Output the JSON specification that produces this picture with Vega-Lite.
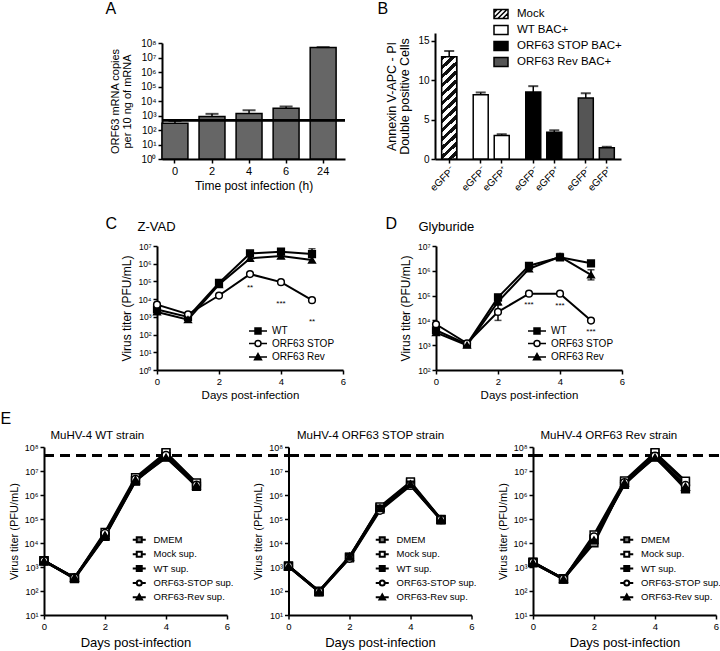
{
 "$schema": "https://vega.github.io/schema/vega-lite/v6.json",
 "padding": 0,
 "background": "white",
 "config": {
  "font": "Liberation Sans",
  "view": {"stroke": null},
  "axis": {"grid": false, "domainColor": "black", "domainWidth": 2, "tickColor": "black", "tickWidth": 1.5, "tickSize": 4, "labelColor": "black", "titleColor": "black", "titleFontWeight": "normal", "labelPadding": 2, "labelFontSize": 10, "titleFontSize": 12, "labelFlush": false, "labelOverlap": false},
  "legend": {"labelColor": "black", "padding": 0, "symbolStrokeColor": "black"}
 },
 "datasets": {
  "A": [
   {"time": "0", "copies": 290, "hi": 420},
   {"time": "2", "copies": 850, "hi": 1300},
   {"time": "4", "copies": 1400, "hi": 2300},
   {"time": "6", "copies": 3200, "hi": 4200},
   {"time": "24", "copies": 48000000, "hi": 52000000}
  ],
  "B": [
   {"cond": "Mock eGFP-", "group": "Mock", "pct": 13.0, "hi": 13.7},
   {"cond": "WT eGFP-", "group": "WT BAC+", "pct": 8.15, "hi": 8.45},
   {"cond": "WT eGFP+", "group": "WT BAC+", "pct": 3.0, "hi": 3.15},
   {"cond": "STOP eGFP-", "group": "ORF63 STOP BAC+", "pct": 8.5, "hi": 9.25},
   {"cond": "STOP eGFP+", "group": "ORF63 STOP BAC+", "pct": 3.4, "hi": 3.65},
   {"cond": "Rev eGFP-", "group": "ORF63 Rev BAC+", "pct": 7.75, "hi": 8.35},
   {"cond": "Rev eGFP+", "group": "ORF63 Rev BAC+", "pct": 1.42, "hi": 1.55}
  ],
  "C": [
   {"strain": "WT", "day": 0, "titer": 2600}, {"strain": "WT", "day": 1, "titer": 1000}, {"strain": "WT", "day": 2, "titer": 83000}, {"strain": "WT", "day": 3, "titer": 3800000}, {"strain": "WT", "day": 4, "titer": 4800000}, {"strain": "WT", "day": 5, "titer": 3500000, "lo": 2200000, "hi": 7000000},
   {"strain": "ORF63 STOP", "day": 0, "titer": 4900}, {"strain": "ORF63 STOP", "day": 1, "titer": 1400}, {"strain": "ORF63 STOP", "day": 2, "titer": 16000}, {"strain": "ORF63 STOP", "day": 3, "titer": 260000}, {"strain": "ORF63 STOP", "day": 4, "titer": 91000}, {"strain": "ORF63 STOP", "day": 5, "titer": 8700},
   {"strain": "ORF63 Rev", "day": 0, "titer": 1900}, {"strain": "ORF63 Rev", "day": 1, "titer": 700}, {"strain": "ORF63 Rev", "day": 2, "titer": 67000}, {"strain": "ORF63 Rev", "day": 3, "titer": 2000000}, {"strain": "ORF63 Rev", "day": 4, "titer": 2700000}, {"strain": "ORF63 Rev", "day": 5, "titer": 1600000}
  ],
  "Cstars": [
   {"day": 3, "y": 40000, "t": "**"}, {"day": 4, "y": 5600, "t": "***"}, {"day": 5, "y": 510, "t": "**"}
  ],
  "D": [
   {"strain": "WT", "day": 0, "titer": 4000}, {"strain": "WT", "day": 1, "titer": 1100}, {"strain": "WT", "day": 2, "titer": 85000, "lo": 60000, "hi": 110000}, {"strain": "WT", "day": 3, "titer": 1600000}, {"strain": "WT", "day": 4, "titer": 3500000, "lo": 2700000, "hi": 5000000}, {"strain": "WT", "day": 5, "titer": 2000000},
   {"strain": "ORF63 STOP", "day": 0, "titer": 7000}, {"strain": "ORF63 STOP", "day": 1, "titer": 1200}, {"strain": "ORF63 STOP", "day": 2, "titer": 22000, "lo": 10000, "hi": 42000}, {"strain": "ORF63 STOP", "day": 3, "titer": 120000}, {"strain": "ORF63 STOP", "day": 4, "titer": 120000}, {"strain": "ORF63 STOP", "day": 5, "titer": 9800},
   {"strain": "ORF63 Rev", "day": 0, "titer": 3200}, {"strain": "ORF63 Rev", "day": 1, "titer": 1000}, {"strain": "ORF63 Rev", "day": 2, "titer": 56000}, {"strain": "ORF63 Rev", "day": 3, "titer": 1200000}, {"strain": "ORF63 Rev", "day": 4, "titer": 3700000}, {"strain": "ORF63 Rev", "day": 5, "titer": 680000, "lo": 430000, "hi": 1100000}
  ],
  "Dstars": [
   {"day": 3, "y": 42000, "t": "***"}, {"day": 4, "y": 38000, "t": "***"}, {"day": 5, "y": 3300, "t": "***"}
  ],
  "E": [
   {"panel": "WT", "sup": "DMEM", "day": 0, "titer": 1800}, {"panel": "WT", "sup": "DMEM", "day": 1, "titer": 350}, {"panel": "WT", "sup": "DMEM", "day": 2, "titer": 20000}, {"panel": "WT", "sup": "DMEM", "day": 3, "titer": 4000000}, {"panel": "WT", "sup": "DMEM", "day": 4, "titer": 55000000}, {"panel": "WT", "sup": "DMEM", "day": 5, "titer": 3000000},
   {"panel": "WT", "sup": "Mock sup.", "day": 0, "titer": 1800}, {"panel": "WT", "sup": "Mock sup.", "day": 1, "titer": 340}, {"panel": "WT", "sup": "Mock sup.", "day": 2, "titer": 28000}, {"panel": "WT", "sup": "Mock sup.", "day": 3, "titer": 5300000}, {"panel": "WT", "sup": "Mock sup.", "day": 4, "titer": 58000000}, {"panel": "WT", "sup": "Mock sup.", "day": 5, "titer": 3200000},
   {"panel": "WT", "sup": "WT sup.", "day": 0, "titer": 1850}, {"panel": "WT", "sup": "WT sup.", "day": 1, "titer": 330}, {"panel": "WT", "sup": "WT sup.", "day": 2, "titer": 19000}, {"panel": "WT", "sup": "WT sup.", "day": 3, "titer": 3800000}, {"panel": "WT", "sup": "WT sup.", "day": 4, "titer": 40000000}, {"panel": "WT", "sup": "WT sup.", "day": 5, "titer": 2300000},
   {"panel": "WT", "sup": "ORF63-STOP sup.", "day": 0, "titer": 1800}, {"panel": "WT", "sup": "ORF63-STOP sup.", "day": 1, "titer": 350}, {"panel": "WT", "sup": "ORF63-STOP sup.", "day": 2, "titer": 25000}, {"panel": "WT", "sup": "ORF63-STOP sup.", "day": 3, "titer": 4500000}, {"panel": "WT", "sup": "ORF63-STOP sup.", "day": 4, "titer": 45000000}, {"panel": "WT", "sup": "ORF63-STOP sup.", "day": 5, "titer": 2600000},
   {"panel": "WT", "sup": "ORF63-Rev sup.", "day": 0, "titer": 1750}, {"panel": "WT", "sup": "ORF63-Rev sup.", "day": 1, "titer": 360}, {"panel": "WT", "sup": "ORF63-Rev sup.", "day": 2, "titer": 21000}, {"panel": "WT", "sup": "ORF63-Rev sup.", "day": 3, "titer": 4200000}, {"panel": "WT", "sup": "ORF63-Rev sup.", "day": 4, "titer": 36000000}, {"panel": "WT", "sup": "ORF63-Rev sup.", "day": 5, "titer": 2500000},
   {"panel": "STOP", "sup": "DMEM", "day": 0, "titer": 1100}, {"panel": "STOP", "sup": "DMEM", "day": 1, "titer": 95}, {"panel": "STOP", "sup": "DMEM", "day": 2, "titer": 2500}, {"panel": "STOP", "sup": "DMEM", "day": 3, "titer": 300000}, {"panel": "STOP", "sup": "DMEM", "day": 4, "titer": 3200000}, {"panel": "STOP", "sup": "DMEM", "day": 5, "titer": 95000},
   {"panel": "STOP", "sup": "Mock sup.", "day": 0, "titer": 1100}, {"panel": "STOP", "sup": "Mock sup.", "day": 1, "titer": 98}, {"panel": "STOP", "sup": "Mock sup.", "day": 2, "titer": 2600}, {"panel": "STOP", "sup": "Mock sup.", "day": 3, "titer": 320000}, {"panel": "STOP", "sup": "Mock sup.", "day": 4, "titer": 3500000}, {"panel": "STOP", "sup": "Mock sup.", "day": 5, "titer": 97000},
   {"panel": "STOP", "sup": "WT sup.", "day": 0, "titer": 1050}, {"panel": "STOP", "sup": "WT sup.", "day": 1, "titer": 92}, {"panel": "STOP", "sup": "WT sup.", "day": 2, "titer": 2400}, {"panel": "STOP", "sup": "WT sup.", "day": 3, "titer": 260000}, {"panel": "STOP", "sup": "WT sup.", "day": 4, "titer": 2600000}, {"panel": "STOP", "sup": "WT sup.", "day": 5, "titer": 92000},
   {"panel": "STOP", "sup": "ORF63-STOP sup.", "day": 0, "titer": 1100}, {"panel": "STOP", "sup": "ORF63-STOP sup.", "day": 1, "titer": 95}, {"panel": "STOP", "sup": "ORF63-STOP sup.", "day": 2, "titer": 2300}, {"panel": "STOP", "sup": "ORF63-STOP sup.", "day": 3, "titer": 230000}, {"panel": "STOP", "sup": "ORF63-STOP sup.", "day": 4, "titer": 2500000}, {"panel": "STOP", "sup": "ORF63-STOP sup.", "day": 5, "titer": 94000},
   {"panel": "STOP", "sup": "ORF63-Rev sup.", "day": 0, "titer": 1080}, {"panel": "STOP", "sup": "ORF63-Rev sup.", "day": 1, "titer": 97}, {"panel": "STOP", "sup": "ORF63-Rev sup.", "day": 2, "titer": 2700}, {"panel": "STOP", "sup": "ORF63-Rev sup.", "day": 3, "titer": 280000}, {"panel": "STOP", "sup": "ORF63-Rev sup.", "day": 4, "titer": 2800000}, {"panel": "STOP", "sup": "ORF63-Rev sup.", "day": 5, "titer": 96000},
   {"panel": "Rev", "sup": "DMEM", "day": 0, "titer": 1550}, {"panel": "Rev", "sup": "DMEM", "day": 1, "titer": 320}, {"panel": "Rev", "sup": "DMEM", "day": 2, "titer": 10000}, {"panel": "Rev", "sup": "DMEM", "day": 3, "titer": 3500000}, {"panel": "Rev", "sup": "DMEM", "day": 4, "titer": 55000000}, {"panel": "Rev", "sup": "DMEM", "day": 5, "titer": 3500000},
   {"panel": "Rev", "sup": "Mock sup.", "day": 0, "titer": 1600}, {"panel": "Rev", "sup": "Mock sup.", "day": 1, "titer": 310}, {"panel": "Rev", "sup": "Mock sup.", "day": 2, "titer": 22000}, {"panel": "Rev", "sup": "Mock sup.", "day": 3, "titer": 3900000}, {"panel": "Rev", "sup": "Mock sup.", "day": 4, "titer": 58000000}, {"panel": "Rev", "sup": "Mock sup.", "day": 5, "titer": 3800000},
   {"panel": "Rev", "sup": "WT sup.", "day": 0, "titer": 1500}, {"panel": "Rev", "sup": "WT sup.", "day": 1, "titer": 330}, {"panel": "Rev", "sup": "WT sup.", "day": 2, "titer": 15000}, {"panel": "Rev", "sup": "WT sup.", "day": 3, "titer": 2800000}, {"panel": "Rev", "sup": "WT sup.", "day": 4, "titer": 40000000}, {"panel": "Rev", "sup": "WT sup.", "day": 5, "titer": 1800000},
   {"panel": "Rev", "sup": "ORF63-STOP sup.", "day": 0, "titer": 1550}, {"panel": "Rev", "sup": "ORF63-STOP sup.", "day": 1, "titer": 320}, {"panel": "Rev", "sup": "ORF63-STOP sup.", "day": 2, "titer": 18000}, {"panel": "Rev", "sup": "ORF63-STOP sup.", "day": 3, "titer": 3300000}, {"panel": "Rev", "sup": "ORF63-STOP sup.", "day": 4, "titer": 42000000}, {"panel": "Rev", "sup": "ORF63-STOP sup.", "day": 5, "titer": 2500000},
   {"panel": "Rev", "sup": "ORF63-Rev sup.", "day": 0, "titer": 1500}, {"panel": "Rev", "sup": "ORF63-Rev sup.", "day": 1, "titer": 315}, {"panel": "Rev", "sup": "ORF63-Rev sup.", "day": 2, "titer": 13000}, {"panel": "Rev", "sup": "ORF63-Rev sup.", "day": 3, "titer": 3200000}, {"panel": "Rev", "sup": "ORF63-Rev sup.", "day": 4, "titer": 36000000}, {"panel": "Rev", "sup": "ORF63-Rev sup.", "day": 5, "titer": 2200000}
  ]
 },
 "spacing": 9,
 "vconcat": [
  {
   "spacing": 22,
   "vconcat": [
    {
     "hconcat": [
      {"width": 28, "height": 126, "data": {"values": []}, "mark": "point"},
      {
       "width": 183, "height": 126,
       "data": {"name": "A"},
       "resolve": {"axis": {"x": "independent"}},
       "layer": [
        {"mark": {"type": "bar", "fill": "#666666", "stroke": "black", "strokeWidth": 1.5},
         "encoding": {
          "x": {"field": "time", "type": "nominal", "scale": {"domain": ["0", "2", "4", "6", "24"], "paddingInner": 0.3, "paddingOuter": 0.12, "align": 0}, "axis": {"title": "Time post infection (h)", "labelAngle": 0, "labelFontSize": 11, "titleFontSize": 12, "titlePadding": 4}},
          "y": {"field": "copies", "type": "quantitative", "scale": {"type": "log", "domain": [1, 100000000], "range": [126, 10]}, "axis": {"values": [1, 10, 100, 1000, 10000, 100000, 1000000, 10000000, 100000000], "labelExpr": "'10' + ['⁰','¹','²','³','⁴','⁵','⁶','⁷','⁸'][round(log(datum.value)/LN10)]", "title": ["ORF63 mRNA copies", "per 10 ng of mRNA"], "titleFontSize": 11, "titleLineHeight": 12, "titlePadding": 8, "labelFontSize": 10}},
          "y2": {"datum": 1}
         }},
        {"mark": {"type": "rule", "strokeWidth": 1.5, "color": "black"},
         "encoding": {
          "x": {"field": "time", "type": "nominal", "axis": {"orient": "top", "domain": false, "ticks": false, "labels": false, "title": "A", "titleX": -57, "titleY": -20, "titleAlign": "left", "titleBaseline": "alphabetic", "titleAngle": 0, "titleFontSize": 16}},
          "y": {"field": "copies", "type": "quantitative"},
          "y2": {"field": "hi"}
         }},
        {"mark": {"type": "tick", "orient": "horizontal", "size": 13, "thickness": 2, "color": "black"},
         "encoding": {
          "x": {"field": "time", "type": "nominal", "axis": null},
          "y": {"field": "hi", "type": "quantitative"}
         }},
        {"mark": {"type": "rule", "strokeWidth": 2, "color": "black"},
         "encoding": {"y": {"datum": 470}}}
       ]
      },
      {
       "width": 186, "height": 126,
       "data": {"name": "B"},
       "resolve": {"axis": {"x": "independent"}, "scale": {"fill": "independent", "shape": "independent", "stroke": "independent"}},
       "layer": [
        {"mark": {"type": "bar", "width": 15, "stroke": "black", "strokeWidth": 1.5},
         "encoding": {
          "x": {"field": "cond", "type": "nominal", "scale": {"domain": ["Mock eGFP-", "s1", "s2", "WT eGFP-", "s3", "WT eGFP+", "s4", "s5", "STOP eGFP-", "s6", "STOP eGFP+", "s7", "s8", "Rev eGFP-", "s9", "Rev eGFP+"], "paddingInner": 0, "paddingOuter": 0.85}, "axis": {"values": ["Mock eGFP-", "WT eGFP-", "WT eGFP+", "STOP eGFP-", "STOP eGFP+", "Rev eGFP-", "Rev eGFP+"], "labelExpr": "indexof(datum.value, '+') >= 0 ? 'eGFP⁺' : 'eGFP⁻'", "labelAngle": -45, "labelFontSize": 10, "title": null}},
          "y": {"field": "pct", "type": "quantitative", "scale": {"domain": [0, 15]}, "axis": {"values": [0, 5, 10, 15], "title": ["Annexin V-APC - PI", "Double positive Cells"], "titleFontSize": 12.5, "titleLineHeight": 13, "titlePadding": 6, "labelFontSize": 10}},
          "fill": {"field": "group", "type": "nominal", "scale": {"domain": ["Mock", "WT BAC+", "ORF63 STOP BAC+", "ORF63 Rev BAC+"], "range": ["#888888", "white", "black", "#555555"]}, "legend": null}
         }},
        {"transform": [{"filter": "datum.group === 'Mock'"}],
         "mark": {"type": "bar", "width": 15, "stroke": "black", "strokeWidth": 1.5,
          "fill": {"gradient": "linear", "x1": 0, "y1": 0, "x2": 0.1533, "y2": 1.1163, "stops": [
              {"offset": 0, "color": "#111111"}, {"offset": 0.0385, "color": "#111111"}, {"offset": 0.0385, "color": "white"}, {"offset": 0.0769, "color": "white"},
              {"offset": 0.0769, "color": "#111111"}, {"offset": 0.1154, "color": "#111111"}, {"offset": 0.1154, "color": "white"}, {"offset": 0.1538, "color": "white"},
              {"offset": 0.1538, "color": "#111111"}, {"offset": 0.1923, "color": "#111111"}, {"offset": 0.1923, "color": "white"}, {"offset": 0.2308, "color": "white"},
              {"offset": 0.2308, "color": "#111111"}, {"offset": 0.2692, "color": "#111111"}, {"offset": 0.2692, "color": "white"}, {"offset": 0.3077, "color": "white"},
              {"offset": 0.3077, "color": "#111111"}, {"offset": 0.3462, "color": "#111111"}, {"offset": 0.3462, "color": "white"}, {"offset": 0.3846, "color": "white"},
              {"offset": 0.3846, "color": "#111111"}, {"offset": 0.4231, "color": "#111111"}, {"offset": 0.4231, "color": "white"}, {"offset": 0.4615, "color": "white"},
              {"offset": 0.4615, "color": "#111111"}, {"offset": 0.5, "color": "#111111"}, {"offset": 0.5, "color": "white"}, {"offset": 0.5385, "color": "white"},
              {"offset": 0.5385, "color": "#111111"}, {"offset": 0.5769, "color": "#111111"}, {"offset": 0.5769, "color": "white"}, {"offset": 0.6154, "color": "white"},
              {"offset": 0.6154, "color": "#111111"}, {"offset": 0.6538, "color": "#111111"}, {"offset": 0.6538, "color": "white"}, {"offset": 0.6923, "color": "white"},
              {"offset": 0.6923, "color": "#111111"}, {"offset": 0.7308, "color": "#111111"}, {"offset": 0.7308, "color": "white"}, {"offset": 0.7692, "color": "white"},
              {"offset": 0.7692, "color": "#111111"}, {"offset": 0.8077, "color": "#111111"}, {"offset": 0.8077, "color": "white"}, {"offset": 0.8462, "color": "white"},
              {"offset": 0.8462, "color": "#111111"}, {"offset": 0.8846, "color": "#111111"}, {"offset": 0.8846, "color": "white"}, {"offset": 0.9231, "color": "white"},
              {"offset": 0.9231, "color": "#111111"}, {"offset": 0.9615, "color": "#111111"}, {"offset": 0.9615, "color": "white"}, {"offset": 1, "color": "white"}
          ]}},
         "encoding": {
          "x": {"field": "cond", "type": "nominal", "scale": {"domain": ["Mock eGFP-", "s1", "s2", "WT eGFP-", "s3", "WT eGFP+", "s4", "s5", "STOP eGFP-", "s6", "STOP eGFP+", "s7", "s8", "Rev eGFP-", "s9", "Rev eGFP+"], "paddingInner": 0, "paddingOuter": 0.85}, "axis": null},
          "y": {"field": "pct", "type": "quantitative"}
         }},
        {"mark": {"type": "rule", "strokeWidth": 1.5, "color": "black"},
         "encoding": {
          "x": {"field": "cond", "type": "nominal", "scale": {"domain": ["Mock eGFP-", "s1", "s2", "WT eGFP-", "s3", "WT eGFP+", "s4", "s5", "STOP eGFP-", "s6", "STOP eGFP+", "s7", "s8", "Rev eGFP-", "s9", "Rev eGFP+"], "paddingInner": 0, "paddingOuter": 0.85}, "axis": {"orient": "top", "domain": false, "ticks": false, "labels": false, "title": "B", "titleX": -58, "titleY": -20, "titleAlign": "left", "titleBaseline": "alphabetic", "titleAngle": 0, "titleFontSize": 16}},
          "y": {"field": "pct", "type": "quantitative"},
          "y2": {"field": "hi"}
         }},
        {"mark": {"type": "tick", "orient": "horizontal", "size": 10, "thickness": 2, "color": "black"},
         "encoding": {
          "x": {"field": "cond", "type": "nominal", "scale": {"domain": ["Mock eGFP-", "s1", "s2", "WT eGFP-", "s3", "WT eGFP+", "s4", "s5", "STOP eGFP-", "s6", "STOP eGFP+", "s7", "s8", "Rev eGFP-", "s9", "Rev eGFP+"], "paddingInner": 0, "paddingOuter": 0.85}, "axis": null},
          "y": {"field": "hi", "type": "quantitative"}
         }},
        {"transform": [{"filter": "false"}],
         "mark": {"type": "point", "filled": false, "opacity": 1, "strokeWidth": 1.5},
         "encoding": {
          "shape": {"field": "group", "type": "nominal", "scale": {"domain": ["Mock", "WT BAC+", "ORF63 STOP BAC+", "ORF63 Rev BAC+"], "range": ["M-1,-0.65H1V0.65H-1ZM-1,-0.2L-0.55,-0.65M-1,0.5L0.15,-0.65M-0.45,0.65L0.85,-0.65M0.25,0.65L1,-0.1", "M-1,-0.65H1V0.65H-1Z", "M-1,-0.65H1V0.65H-1Z", "M-1,-0.65H1V0.65H-1Z"]},
           "legend": {"orient": "none", "legendX": 58, "legendY": -27, "title": null, "symbolSize": 196, "symbolStrokeColor": "black", "symbolStrokeWidth": 1.5, "labelFontSize": 11.5, "labelOffset": 8, "rowPadding": -3}},
          "fill": {"field": "group", "type": "nominal", "scale": {"domain": ["Mock", "WT BAC+", "ORF63 STOP BAC+", "ORF63 Rev BAC+"], "range": ["white", "white", "black", "#555555"]}},
          "stroke": {"field": "group", "type": "nominal", "scale": {"domain": ["Mock", "WT BAC+", "ORF63 STOP BAC+", "ORF63 Rev BAC+"], "range": ["black", "black", "black", "black"]}}
         }}
       ]
      }
     ],
     "spacing": 90,
     "bounds": "flush"
    },
    {
     "hconcat": [
      {"width": 20, "height": 124, "data": {"values": []}, "mark": "point"},
      {
       "width": 186, "height": 124,
       "resolve": {"axis": {"x": "independent"}, "scale": {"fill": "independent", "shape": "independent", "stroke": "independent"}},
       "layer": [
        {"data": {"name": "C"},
         "mark": {"type": "line", "strokeWidth": 2, "color": "black"},
         "encoding": {
          "x": {"field": "day", "type": "quantitative", "scale": {"domain": [0, 6]}, "axis": {"values": [0, 2, 4, 6], "title": "Days post-infection", "titleFontSize": 11.5, "labelFontSize": 9.5, "titlePadding": 4}},
          "y": {"field": "titer", "type": "quantitative", "scale": {"type": "log", "domain": [1, 10000000]}, "axis": {"values": [1, 10, 100, 1000, 10000, 100000, 1000000, 10000000], "labelExpr": "'10' + ['⁰','¹','²','³','⁴','⁵','⁶','⁷','⁸'][round(log(datum.value)/LN10)]", "title": "Virus titer (PFU/mL)", "titleFontSize": 12, "labelFontSize": 8.5, "titlePadding": 4}},
          "detail": {"field": "strain", "type": "nominal"}
         }},
        {"data": {"name": "C"},
         "transform": [{"filter": "isValid(datum.hi)"}],
         "mark": {"type": "rule", "strokeWidth": 1.5, "color": "black"},
         "encoding": {
          "x": {"field": "day", "type": "quantitative", "axis": {"orient": "top", "domain": false, "ticks": false, "labels": false, "title": "Z-VAD", "titleX": -20, "titleY": -16, "titleAlign": "left", "titleBaseline": "alphabetic", "titleAngle": 0, "titleFontSize": 13}},
          "y": {"field": "lo", "type": "quantitative"},
          "y2": {"field": "hi"}
         }},
        {"data": {"name": "C"},
         "transform": [{"filter": "isValid(datum.hi)"}],
         "mark": {"type": "tick", "orient": "horizontal", "size": 7, "thickness": 1.5, "color": "black"},
         "encoding": {
          "x": {"field": "day", "type": "quantitative", "axis": null},
          "y": {"field": "hi", "type": "quantitative"}
         }},
        {"data": {"name": "C"},
         "mark": {"type": "point", "filled": true, "stroke": "black", "strokeWidth": 1.5, "size": 45, "opacity": 1},
         "encoding": {
          "x": {"field": "day", "type": "quantitative", "axis": null},
          "y": {"field": "titer", "type": "quantitative"},
          "shape": {"field": "strain", "type": "nominal", "scale": {"domain": ["WT", "ORF63 STOP", "ORF63 Rev"], "range": ["square", "circle", "triangle-up"]}, "legend": null},
          "fill": {"field": "strain", "type": "nominal", "scale": {"domain": ["WT", "ORF63 STOP", "ORF63 Rev"], "range": ["black", "white", "black"]}, "legend": null}
         }},
        {"data": {"name": "C"},
         "transform": [{"filter": "false"}],
         "mark": {"type": "point", "filled": false, "opacity": 1, "strokeWidth": 1.5},
         "encoding": {
          "shape": {"field": "strain", "type": "nominal", "scale": {"domain": ["WT", "ORF63 STOP", "ORF63 Rev"], "range": ["M-3,0H-1M1,0H3M-1,-1H1V1H-1Z", "M-3,0H-1M1,0H3M1,0A1,1,0,1,1,-1,0A1,1,0,1,1,1,0Z", "M-3,0H3M0,-1.15L1.15,0.9H-1.15Z"]},
           "legend": {"orient": "none", "legendX": 96, "legendY": 80, "title": null, "symbolSize": 36, "symbolStrokeColor": "black", "symbolStrokeWidth": 1.5, "labelFontSize": 10, "labelOffset": 9, "rowPadding": 0.5}},
          "fill": {"field": "strain", "type": "nominal", "scale": {"domain": ["WT", "ORF63 STOP", "ORF63 Rev"], "range": ["black", "white", "black"]}},
          "stroke": {"field": "strain", "type": "nominal", "scale": {"domain": ["WT", "ORF63 STOP", "ORF63 Rev"], "range": ["black", "black", "black"]}}
         }},
        {"data": {"name": "Cstars"},
         "mark": {"type": "text", "fontSize": 8, "color": "black", "baseline": "middle"},
         "encoding": {
          "x": {"field": "day", "type": "quantitative", "axis": {"orient": "top", "domain": false, "ticks": false, "labels": false, "title": "C", "titleX": -52, "titleY": -18, "titleAlign": "left", "titleBaseline": "alphabetic", "titleAngle": 0, "titleFontSize": 16}},
          "y": {"field": "y", "type": "quantitative"},
          "text": {"field": "t"}
         }}
       ]
      },
      {
       "width": 186, "height": 124,
       "resolve": {"axis": {"x": "independent"}, "scale": {"fill": "independent", "shape": "independent", "stroke": "independent"}},
       "layer": [
        {"data": {"name": "D"},
         "mark": {"type": "line", "strokeWidth": 2, "color": "black"},
         "encoding": {
          "x": {"field": "day", "type": "quantitative", "scale": {"domain": [0, 6]}, "axis": {"values": [0, 2, 4, 6], "title": "Days post-infection", "titleFontSize": 11.5, "labelFontSize": 9.5, "titlePadding": 4}},
          "y": {"field": "titer", "type": "quantitative", "scale": {"type": "log", "domain": [100, 10000000]}, "axis": {"values": [100, 1000, 10000, 100000, 1000000, 10000000], "labelExpr": "'10' + ['⁰','¹','²','³','⁴','⁵','⁶','⁷','⁸'][round(log(datum.value)/LN10)]", "title": "Virus titer (PFU/mL)", "titleFontSize": 12, "labelFontSize": 8.5, "titlePadding": 4}},
          "detail": {"field": "strain", "type": "nominal"}
         }},
        {"data": {"name": "D"},
         "transform": [{"filter": "isValid(datum.hi)"}],
         "mark": {"type": "rule", "strokeWidth": 1.5, "color": "black"},
         "encoding": {
          "x": {"field": "day", "type": "quantitative", "axis": {"orient": "top", "domain": false, "ticks": false, "labels": false, "title": "Glyburide", "titleX": -18, "titleY": -16, "titleAlign": "left", "titleBaseline": "alphabetic", "titleAngle": 0, "titleFontSize": 13}},
          "y": {"field": "lo", "type": "quantitative"},
          "y2": {"field": "hi"}
         }},
        {"data": {"name": "D"},
         "transform": [{"filter": "isValid(datum.hi)"}],
         "mark": {"type": "tick", "orient": "horizontal", "size": 7, "thickness": 1.5, "color": "black"},
         "encoding": {
          "x": {"field": "day", "type": "quantitative", "axis": null},
          "y": {"field": "hi", "type": "quantitative"}
         }},
        {"data": {"name": "D"},
         "transform": [{"filter": "isValid(datum.lo)"}],
         "mark": {"type": "tick", "orient": "horizontal", "size": 7, "thickness": 1.5, "color": "black"},
         "encoding": {
          "x": {"field": "day", "type": "quantitative", "axis": null},
          "y": {"field": "lo", "type": "quantitative"}
         }},
        {"data": {"name": "D"},
         "mark": {"type": "point", "filled": true, "stroke": "black", "strokeWidth": 1.5, "size": 45, "opacity": 1},
         "encoding": {
          "x": {"field": "day", "type": "quantitative", "axis": null},
          "y": {"field": "titer", "type": "quantitative"},
          "shape": {"field": "strain", "type": "nominal", "scale": {"domain": ["WT", "ORF63 STOP", "ORF63 Rev"], "range": ["square", "circle", "triangle-up"]}, "legend": null},
          "fill": {"field": "strain", "type": "nominal", "scale": {"domain": ["WT", "ORF63 STOP", "ORF63 Rev"], "range": ["black", "white", "black"]}, "legend": null}
         }},
        {"data": {"name": "D"},
         "transform": [{"filter": "false"}],
         "mark": {"type": "point", "filled": false, "opacity": 1, "strokeWidth": 1.5},
         "encoding": {
          "shape": {"field": "strain", "type": "nominal", "scale": {"domain": ["WT", "ORF63 STOP", "ORF63 Rev"], "range": ["M-3,0H-1M1,0H3M-1,-1H1V1H-1Z", "M-3,0H-1M1,0H3M1,0A1,1,0,1,1,-1,0A1,1,0,1,1,1,0Z", "M-3,0H3M0,-1.15L1.15,0.9H-1.15Z"]},
           "legend": {"orient": "none", "legendX": 96, "legendY": 80, "title": null, "symbolSize": 36, "symbolStrokeColor": "black", "symbolStrokeWidth": 1.5, "labelFontSize": 10, "labelOffset": 9, "rowPadding": 0.5}},
          "fill": {"field": "strain", "type": "nominal", "scale": {"domain": ["WT", "ORF63 STOP", "ORF63 Rev"], "range": ["black", "white", "black"]}},
          "stroke": {"field": "strain", "type": "nominal", "scale": {"domain": ["WT", "ORF63 STOP", "ORF63 Rev"], "range": ["black", "black", "black"]}}
         }},
        {"data": {"name": "Dstars"},
         "mark": {"type": "text", "fontSize": 8, "color": "black", "baseline": "middle"},
         "encoding": {
          "x": {"field": "day", "type": "quantitative", "axis": {"orient": "top", "domain": false, "ticks": false, "labels": false, "title": "D", "titleX": -51, "titleY": -18, "titleAlign": "left", "titleBaseline": "alphabetic", "titleAngle": 0, "titleFontSize": 16}},
          "y": {"field": "y", "type": "quantitative"},
          "text": {"field": "t"}
         }}
       ]
      }
     ],
     "spacing": 93,
     "bounds": "flush"
    }
   ]
  },
  {
   "hconcat": [
    {
     "width": 183, "height": 168,
     "data": {"name": "E"},
     "transform": [{"filter": "datum.panel === 'WT'"}],
     "resolve": {"axis": {"x": "independent"}, "scale": {"fill": "independent", "shape": "independent", "stroke": "independent"}},
     "layer": [
      {"mark": {"type": "rule", "strokeDash": [10, 6], "strokeWidth": 2.5, "color": "black"},
       "encoding": {"x": {"datum": 0, "axis": null}, "x2": {"datum": 8.03}, "y": {"datum": 45000000}}},
      {"mark": {"type": "line", "strokeWidth": 2.5, "color": "black"},
       "encoding": {
        "x": {"field": "day", "type": "quantitative", "scale": {"domain": [0, 6]}, "axis": {"values": [0, 2, 4, 6], "title": "Days post-infection", "titleFontSize": 13, "labelFontSize": 9.5, "titlePadding": 6}},
        "y": {"field": "titer", "type": "quantitative", "scale": {"type": "log", "domain": [10, 100000000]}, "axis": {"values": [10, 100, 1000, 10000, 100000, 1000000, 10000000, 100000000], "labelExpr": "'10' + ['⁰','¹','²','³','⁴','⁵','⁶','⁷','⁸'][round(log(datum.value)/LN10)]", "title": "Virus titer (PFU/mL)", "titleFontSize": 11, "labelFontSize": 9, "titlePadding": 5}},
        "detail": {"field": "sup", "type": "nominal"}
       }},
      {"mark": {"type": "point", "filled": true, "stroke": "black", "strokeWidth": 1.5, "size": 60, "opacity": 1},
       "encoding": {
        "x": {"field": "day", "type": "quantitative", "axis": {"orient": "top", "domain": false, "ticks": false, "labels": false, "title": "MuHV-4 WT strain", "titleX": 6, "titleY": -9, "titleAlign": "left", "titleBaseline": "alphabetic", "titleAngle": 0, "titleFontSize": 11.5}},
        "y": {"field": "titer", "type": "quantitative"},
        "shape": {"field": "sup", "type": "nominal", "scale": {"domain": ["DMEM", "Mock sup.", "WT sup.", "ORF63-STOP sup.", "ORF63-Rev sup."], "range": ["square", "square", "square", "circle", "triangle-up"]}, "legend": null},
        "fill": {"field": "sup", "type": "nominal", "scale": {"domain": ["DMEM", "Mock sup.", "WT sup.", "ORF63-STOP sup.", "ORF63-Rev sup."], "range": ["#7a7a7a", "white", "black", "white", "black"]}, "legend": null}
       }},
      {"transform": [{"filter": "false"}],
       "mark": {"type": "point", "filled": false, "opacity": 1, "strokeWidth": 2},
       "encoding": {
        "x": {"field": "day", "type": "quantitative", "axis": {"orient": "top", "domain": false, "ticks": false, "labels": false, "title": "E", "titleX": -44, "titleY": -24, "titleAlign": "left", "titleBaseline": "alphabetic", "titleAngle": 0, "titleFontSize": 16}},
        "y": {"field": "titer", "type": "quantitative"},
        "shape": {"field": "sup", "type": "nominal", "scale": {"domain": ["DMEM", "Mock sup.", "WT sup.", "ORF63-STOP sup.", "ORF63-Rev sup."], "range": ["M-2.6,0H-1M1,0H2.6M-1,-1H1V1H-1Z", "M-2.6,0H-1M1,0H2.6M-1,-1H1V1H-1Z", "M-2.6,0H-1M1,0H2.6M-1,-1H1V1H-1Z", "M-2.6,0H-1M1,0H2.6M1,0A1,1,0,1,1,-1,0A1,1,0,1,1,1,0Z", "M-2.6,0H2.6M0,-1.1L1.1,0.9H-1.1Z"]},
         "legend": {"orient": "none", "legendX": 90.5, "legendY": 88, "title": null, "symbolSize": 25, "symbolStrokeColor": "black", "symbolStrokeWidth": 2, "labelFontSize": 9.5, "labelOffset": 9.5, "rowPadding": 0.4}},
        "fill": {"field": "sup", "type": "nominal", "scale": {"domain": ["DMEM", "Mock sup.", "WT sup.", "ORF63-STOP sup.", "ORF63-Rev sup."], "range": ["#7a7a7a", "white", "black", "white", "black"]}},
        "stroke": {"field": "sup", "type": "nominal", "scale": {"domain": ["DMEM", "Mock sup.", "WT sup.", "ORF63-STOP sup.", "ORF63-Rev sup."], "range": ["black", "black", "black", "black", "black"]}}
       }}
     ]
    },
    {
     "width": 183, "height": 168,
     "data": {"name": "E"},
     "transform": [{"filter": "datum.panel === 'STOP'"}],
     "resolve": {"axis": {"x": "independent"}, "scale": {"fill": "independent", "shape": "independent", "stroke": "independent"}},
     "layer": [
      {"mark": {"type": "rule", "strokeDash": [10, 6], "strokeWidth": 2.5, "color": "black"},
       "encoding": {"x": {"datum": 0, "axis": null}, "x2": {"datum": 8.0}, "y": {"datum": 45000000}}},
      {"mark": {"type": "line", "strokeWidth": 2.5, "color": "black"},
       "encoding": {
        "x": {"field": "day", "type": "quantitative", "scale": {"domain": [0, 6]}, "axis": {"values": [0, 2, 4, 6], "title": "Days post-infection", "titleFontSize": 13, "labelFontSize": 9.5, "titlePadding": 6}},
        "y": {"field": "titer", "type": "quantitative", "scale": {"type": "log", "domain": [10, 100000000]}, "axis": {"values": [10, 100, 1000, 10000, 100000, 1000000, 10000000, 100000000], "labelExpr": "'10' + ['⁰','¹','²','³','⁴','⁵','⁶','⁷','⁸'][round(log(datum.value)/LN10)]", "title": "Virus titer (PFU/mL)", "titleFontSize": 11, "labelFontSize": 9, "titlePadding": 5}},
        "detail": {"field": "sup", "type": "nominal"}
       }},
      {"mark": {"type": "point", "filled": true, "stroke": "black", "strokeWidth": 1.5, "size": 60, "opacity": 1},
       "encoding": {
        "x": {"field": "day", "type": "quantitative", "axis": {"orient": "top", "domain": false, "ticks": false, "labels": false, "title": "MuHV-4 ORF63 STOP strain", "titleX": 8, "titleY": -9, "titleAlign": "left", "titleBaseline": "alphabetic", "titleAngle": 0, "titleFontSize": 11.5}},
        "y": {"field": "titer", "type": "quantitative"},
        "shape": {"field": "sup", "type": "nominal", "scale": {"domain": ["DMEM", "Mock sup.", "WT sup.", "ORF63-STOP sup.", "ORF63-Rev sup."], "range": ["square", "square", "square", "circle", "triangle-up"]}, "legend": null},
        "fill": {"field": "sup", "type": "nominal", "scale": {"domain": ["DMEM", "Mock sup.", "WT sup.", "ORF63-STOP sup.", "ORF63-Rev sup."], "range": ["#7a7a7a", "white", "black", "white", "black"]}, "legend": null}
       }},
      {"transform": [{"filter": "false"}],
       "mark": {"type": "point", "filled": false, "opacity": 1, "strokeWidth": 2},
       "encoding": {
        "shape": {"field": "sup", "type": "nominal", "scale": {"domain": ["DMEM", "Mock sup.", "WT sup.", "ORF63-STOP sup.", "ORF63-Rev sup."], "range": ["M-2.6,0H-1M1,0H2.6M-1,-1H1V1H-1Z", "M-2.6,0H-1M1,0H2.6M-1,-1H1V1H-1Z", "M-2.6,0H-1M1,0H2.6M-1,-1H1V1H-1Z", "M-2.6,0H-1M1,0H2.6M1,0A1,1,0,1,1,-1,0A1,1,0,1,1,1,0Z", "M-2.6,0H2.6M0,-1.1L1.1,0.9H-1.1Z"]},
         "legend": {"orient": "none", "legendX": 89, "legendY": 88, "title": null, "symbolSize": 25, "symbolStrokeColor": "black", "symbolStrokeWidth": 2, "labelFontSize": 9.5, "labelOffset": 9.5, "rowPadding": 0.4}},
        "fill": {"field": "sup", "type": "nominal", "scale": {"domain": ["DMEM", "Mock sup.", "WT sup.", "ORF63-STOP sup.", "ORF63-Rev sup."], "range": ["#7a7a7a", "white", "black", "white", "black"]}},
        "stroke": {"field": "sup", "type": "nominal", "scale": {"domain": ["DMEM", "Mock sup.", "WT sup.", "ORF63-STOP sup.", "ORF63-Rev sup."], "range": ["black", "black", "black", "black", "black"]}}
       }}
     ]
    },
    {
     "width": 183, "height": 168,
     "data": {"name": "E"},
     "transform": [{"filter": "datum.panel === 'Rev'"}],
     "resolve": {"axis": {"x": "independent"}, "scale": {"fill": "independent", "shape": "independent", "stroke": "independent"}},
     "layer": [
      {"mark": {"type": "rule", "strokeDash": [10, 6], "strokeWidth": 2.5, "color": "black"},
       "encoding": {"x": {"datum": 0, "axis": null}, "x2": {"datum": 6.12}, "y": {"datum": 45000000}}},
      {"mark": {"type": "line", "strokeWidth": 2.5, "color": "black"},
       "encoding": {
        "x": {"field": "day", "type": "quantitative", "scale": {"domain": [0, 6]}, "axis": {"values": [0, 2, 4, 6], "title": "Days post-infection", "titleFontSize": 13, "labelFontSize": 9.5, "titlePadding": 6}},
        "y": {"field": "titer", "type": "quantitative", "scale": {"type": "log", "domain": [10, 100000000]}, "axis": {"values": [10, 100, 1000, 10000, 100000, 1000000, 10000000, 100000000], "labelExpr": "'10' + ['⁰','¹','²','³','⁴','⁵','⁶','⁷','⁸'][round(log(datum.value)/LN10)]", "title": "Virus titer (PFU/mL)", "titleFontSize": 11, "labelFontSize": 9, "titlePadding": 5}},
        "detail": {"field": "sup", "type": "nominal"}
       }},
      {"mark": {"type": "point", "filled": true, "stroke": "black", "strokeWidth": 1.5, "size": 60, "opacity": 1},
       "encoding": {
        "x": {"field": "day", "type": "quantitative", "axis": {"orient": "top", "domain": false, "ticks": false, "labels": false, "title": "MuHV-4 ORF63 Rev strain", "titleX": 7, "titleY": -9, "titleAlign": "left", "titleBaseline": "alphabetic", "titleAngle": 0, "titleFontSize": 11.5}},
        "y": {"field": "titer", "type": "quantitative"},
        "shape": {"field": "sup", "type": "nominal", "scale": {"domain": ["DMEM", "Mock sup.", "WT sup.", "ORF63-STOP sup.", "ORF63-Rev sup."], "range": ["square", "square", "square", "circle", "triangle-up"]}, "legend": null},
        "fill": {"field": "sup", "type": "nominal", "scale": {"domain": ["DMEM", "Mock sup.", "WT sup.", "ORF63-STOP sup.", "ORF63-Rev sup."], "range": ["#7a7a7a", "white", "black", "white", "black"]}, "legend": null}
       }},
      {"transform": [{"filter": "false"}],
       "mark": {"type": "point", "filled": false, "opacity": 1, "strokeWidth": 2},
       "encoding": {
        "shape": {"field": "sup", "type": "nominal", "scale": {"domain": ["DMEM", "Mock sup.", "WT sup.", "ORF63-STOP sup.", "ORF63-Rev sup."], "range": ["M-2.6,0H-1M1,0H2.6M-1,-1H1V1H-1Z", "M-2.6,0H-1M1,0H2.6M-1,-1H1V1H-1Z", "M-2.6,0H-1M1,0H2.6M-1,-1H1V1H-1Z", "M-2.6,0H-1M1,0H2.6M1,0A1,1,0,1,1,-1,0A1,1,0,1,1,1,0Z", "M-2.6,0H2.6M0,-1.1L1.1,0.9H-1.1Z"]},
         "legend": {"orient": "none", "legendX": 89, "legendY": 88, "title": null, "symbolSize": 25, "symbolStrokeColor": "black", "symbolStrokeWidth": 2, "labelFontSize": 9.5, "labelOffset": 9.5, "rowPadding": 0.4}},
        "fill": {"field": "sup", "type": "nominal", "scale": {"domain": ["DMEM", "Mock sup.", "WT sup.", "ORF63-STOP sup.", "ORF63-Rev sup."], "range": ["#7a7a7a", "white", "black", "white", "black"]}},
        "stroke": {"field": "sup", "type": "nominal", "scale": {"domain": ["DMEM", "Mock sup.", "WT sup.", "ORF63-STOP sup.", "ORF63-Rev sup."], "range": ["black", "black", "black", "black", "black"]}}
       }}
     ]
    }
   ],
   "spacing": 61.5,
   "bounds": "flush"
  }
 ]
}
